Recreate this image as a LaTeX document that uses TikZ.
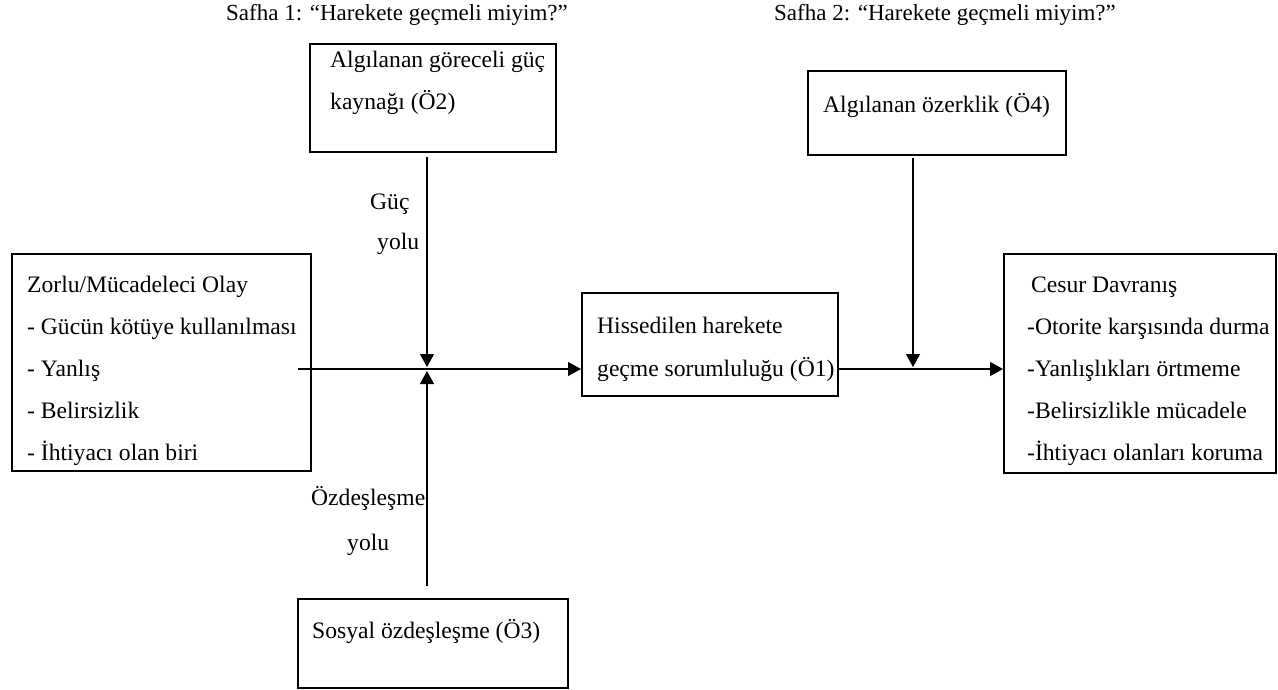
\documentclass[tikz,border=0pt]{standalone}
\usepackage{fontspec}
\setmainfont{Liberation Serif}
\usetikzlibrary{arrows.meta,calc}
\newcommand\myfs{\fontsize{23.6}{28}\selectfont}
\newcommand\myhfs{\fontsize{23}{27}\selectfont}
\tikzset{
  box/.style={draw, line width=2.2pt, inner sep=0pt, anchor=north west},
  txt/.style={anchor=base west, inner sep=0pt, font=\myfs},
  htxt/.style={anchor=base west, inner sep=0pt, font=\myhfs},
  conn/.style={line width=1.2pt, -{Triangle[length=13pt,width=14pt]}}
}
\begin{document}
\begin{tikzpicture}[x=1pt,y=-1pt]
\useasboundingbox (0,0) rectangle (1278,690);
% headers
\node[htxt] (h1) at (226,21) {Safha 1: “Harekete geçmeli miyim?”};
\node[htxt] (h2) at (774,21) {Safha 2: “Harekete geçmeli miyim?”};
% boxes
\node[box, minimum width=246pt, minimum height=108pt] (o2) at (309,43) {};
\node[box, minimum width=258pt, minimum height=84pt] (o4) at (807,70) {};
\node[box, minimum width=299pt, minimum height=217pt] (ev) at (11,253) {};
\node[box, minimum width=256pt, minimum height=103pt] (o1) at (581,292) {};
\node[box, minimum width=272pt, minimum height=219pt] (cb) at (1003,253) {};
\node[box, minimum width=270pt, minimum height=89pt] (o3) at (297,598) {};
% box texts
\node[txt] (o2a) at (330,68) {Algılanan göreceli güç};
\node[txt] (o2b) at (330,110) {kaynağı (Ö2)};
\node[txt] (o4a) at (823,113) {Algılanan özerklik (Ö4)};
\node[txt] (eva) at (27,292) {Zorlu/Mücadeleci Olay};
\node[txt] (evb) at (27,334) {- Gücün kötüye kullanılması};
\node[txt] (evc) at (27,376) {- Yanlış};
\node[txt] (evd) at (27,418) {- Belirsizlik};
\node[txt] (eve) at (27,460) {- İhtiyacı olan biri};
\node[txt] (o1a) at (597,333) {Hissedilen harekete};
\node[txt] (o1b) at (597,376) {geçme sorumluluğu (Ö1)};
\node[txt] (cba) at (1031,292) {Cesur Davranış};
\node[txt] (cbb) at (1027,334) {-Otorite karşısında durma};
\node[txt] (cbc) at (1027,376) {-Yanlışlıkları örtmeme};
\node[txt] (cbd) at (1027,418) {-Belirsizlikle mücadele};
\node[txt] (cbe) at (1027,460) {-İhtiyacı olanları koruma};
\node[txt] (o3a) at (312,638) {Sosyal özdeşleşme (Ö3)};
% path labels
\node[txt] (gl1) at (370,210) {Güç};
\node[txt] (gl2) at (377,249) {yolu};
\node[txt] (il1) at (311,505) {Özdeşleşme};
\node[txt] (il2) at (347,550) {yolu};
% connectors
\coordinate (evout) at (298,369);
\coordinate (j) at (427,369);
\coordinate (k) at (913,369);
\draw[conn] (evout) -- (o1.west |- evout);
\draw[conn] ($(o2.south -| j)+(0,4)$) -- ($(j)+(0,-2)$);
\draw[conn] ($(o3.north -| j)+(0,-12)$) -- ($(j)+(0,2)$);
\draw[conn] (o1.east |- k) -- (cb.west |- k);
\draw[conn] ($(o4.south -| k)+(0,2)$) -- ($(k)+(0,-2)$);
\end{tikzpicture}
\end{document}
